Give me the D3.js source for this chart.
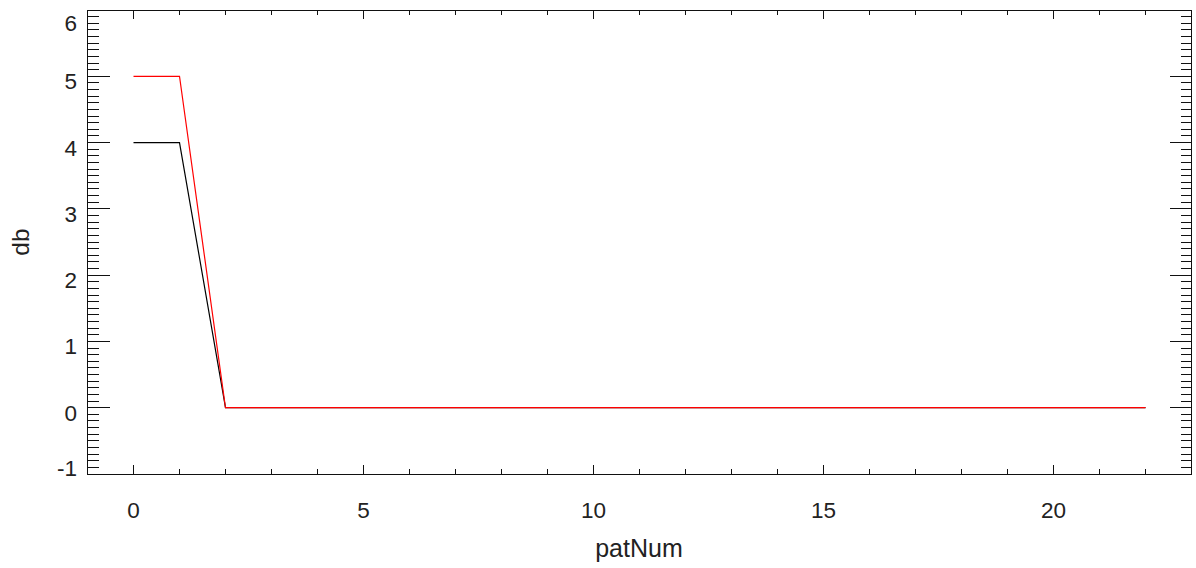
<!DOCTYPE html>
<html><head><meta charset="utf-8">
<script src="https://cdn.jsdelivr.net/npm/d3@7"></script>
<style>body{margin:0;background:#fff;} text{font-family:"Liberation Sans",Arial,sans-serif;fill:#222;}</style>
</head><body>
<svg id="c" width="1196" height="568"></svg>
<script>
const patNum = [0,1,2,3,4,5,6,7,8,9,10,11,12,13,14,15,16,17,18,19,20,21,22];
const blackDb = [4,4,0,0,0,0,0,0,0,0,0,0,0,0,0,0,0,0,0,0,0,0,0];
const redDb   = [5,5,0,0,0,0,0,0,0,0,0,0,0,0,0,0,0,0,0,0,0,0,0];
const xTicks = [0,5,10,15,20];
const yTicks = [-1,0,1,2,3,4,5,6];

const svg = d3.select("#c");
const L=87.5, R=1191.5, T=10, B=474;
const x = d3.scaleLinear().domain([-1,23]).range([L,R]);
const y = d3.scaleLinear().domain([-1,6]).range([B,T]);

const ax = svg.append("g").attr("stroke","#111").attr("stroke-width",1).attr("shape-rendering","crispEdges");
ax.append("rect").attr("x",L).attr("y",T).attr("width",R-L).attr("height",B-T).attr("fill","none");

const xMinor = d3.range(0,24,1);
xMinor.forEach(v=>{
  const major = v%5===0;
  const len = major?9:5;
  ax.append("line").attr("x1",x(v)).attr("x2",x(v)).attr("y1",B).attr("y2",B-len);
  ax.append("line").attr("x1",x(v)).attr("x2",x(v)).attr("y1",T).attr("y2",T+len);
});
const yMinor = d3.range(-10,61,1).map(d=>d/10);
yMinor.forEach(v=>{
  const major = Math.abs(v-Math.round(v))<1e-9;
  const len = major?22:11;
  ax.append("line").attr("x1",L).attr("x2",L+len).attr("y1",y(v)).attr("y2",y(v));
  ax.append("line").attr("x1",R).attr("x2",R-len).attr("y1",y(v)).attr("y2",y(v));
});

svg.append("g").selectAll("text").data(xTicks).join("text")
  .attr("x",d=>x(d)).attr("y",518).attr("text-anchor","middle").attr("font-size",22.5).text(d=>d);
const yOff = d=> d===6?13 : d===-1?-6 : 5;
svg.append("g").selectAll("text").data(yTicks).join("text")
  .attr("x",77).attr("y",d=>y(d)+yOff(d)+8).attr("text-anchor","end").attr("font-size",22.5).text(d=>d);

svg.append("text").attr("x",639).attr("y",557).attr("text-anchor","middle").attr("font-size",25).text("patNum");
svg.append("text").attr("transform","translate(29,242) rotate(-90)").attr("text-anchor","middle").attr("font-size",24.5).text("db");

const line = d3.line().x((d,i)=>x(patNum[i])).y(d=>y(d));
svg.append("path").datum(blackDb).attr("d",line).attr("fill","none").attr("stroke","#000").attr("stroke-width",1.2);
svg.append("path").datum(redDb).attr("d",line).attr("fill","none").attr("stroke","#ff0000").attr("stroke-width",1.2);
</script>
</body></html>
